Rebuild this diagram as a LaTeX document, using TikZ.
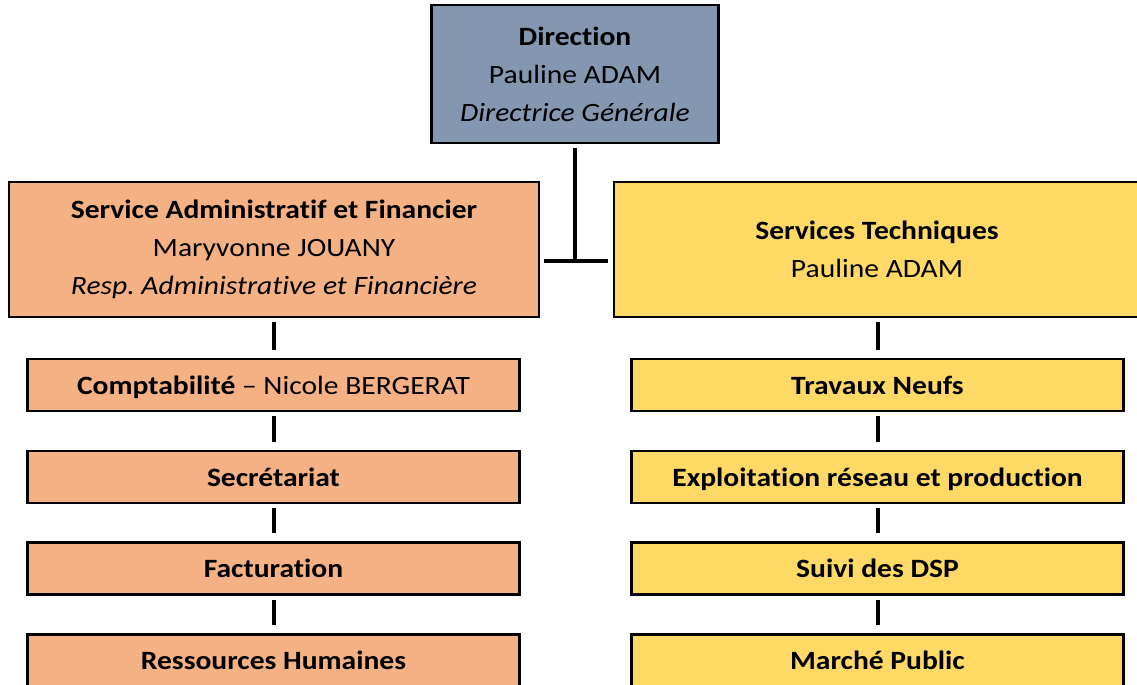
\documentclass[tikz,border=0pt]{standalone}
\usepackage{fontspec}
\setmainfont{Carlito}[FakeStretch=1.12, Ligatures=NoCommon]
\usepackage{xcolor}
\frenchspacing

\definecolor{dirblau}{HTML}{8497B0}
\definecolor{verworange}{HTML}{F4B183}
\definecolor{technikgelb}{HTML}{FFD966}

\begin{document}
\begin{tikzpicture}[x=0.5pt,y=-0.5pt,
kasten/.style={rectangle, draw=black, line width=1.3pt, align=center, inner sep=0pt, font=\fontsize{13.2}{19}\selectfont},
chef/.style={kasten, minimum width=143.5pt, minimum height=69pt, fill=dirblau},
dienst/.style={kasten, minimum width=265pt, minimum height=67.5pt},
posten/.style={kasten, minimum width=246pt, minimum height=26pt, text depth=0pt},
linie/.style={line width=2pt, shorten <=2pt, shorten >=4pt},
]

\useasboundingbox (0,0) rectangle (1137,685);
\clip (0,0) rectangle (1137,685);

%\draw[help lines,yellow,thin] (0,0) grid[step=50] (1137,685);

\node [chef] (dir) at (575,74) {\textbf{Direction}\\Pauline ADAM\\\textit{Directrice Générale}};

\node [dienst, fill=verworange] (saf) at (274,249.5) {\textbf{Service Administratif et Financier}\\Maryvonne JOUANY\\\textit{Resp.\ Administrative et Financière}};
\node [dienst, fill=technikgelb, minimum width=263pt] (st) at (877,249.5) {\textbf{Services Techniques}\\Pauline ADAM};

\node [posten, fill=verworange] (cpt) at (273.5,385) {\textbf{Comptabilité} – Nicole BERGERAT};
\node [posten, fill=verworange] (sec) at (273.5,476.8) {\textbf{Secrétariat}};
\node [posten, fill=verworange] (fac) at (273.5,568.5) {\textbf{Facturation}};
\node [posten, fill=verworange] (rh) at (273.5,660.3) {\textbf{Ressources Humaines}};

\node [posten, fill=technikgelb] (tn) at (877.5,385) {\textbf{Travaux Neufs}};
\node [posten, fill=technikgelb] (exp) at (877.5,476.8) {\textbf{Exploitation réseau et production}};
\node [posten, fill=technikgelb] (dsp) at (877.5,568.5) {\textbf{Suivi des DSP}};
\node [posten, fill=technikgelb] (mp) at (877.5,660.3) {\textbf{Marché Public}};

\coordinate (knoten) at (575,260.5);

\draw [linie, shorten >=0pt] (dir.south) -- (knoten);
\draw [linie, shorten >=2.5pt] (saf.east |- knoten) -- (st.west |- knoten);

\draw [linie] (saf.south -| cpt.north) -- (cpt.north);
\draw [linie] (cpt) -- (sec);
\draw [linie] (sec) -- (fac);
\draw [linie] (fac) -- (rh);

\draw [linie] (st.south -| tn.north) -- (tn.north);
\draw [linie] (tn) -- (exp);
\draw [linie] (exp) -- (dsp);
\draw [linie] (dsp) -- (mp);
\end{tikzpicture}
\end{document}
